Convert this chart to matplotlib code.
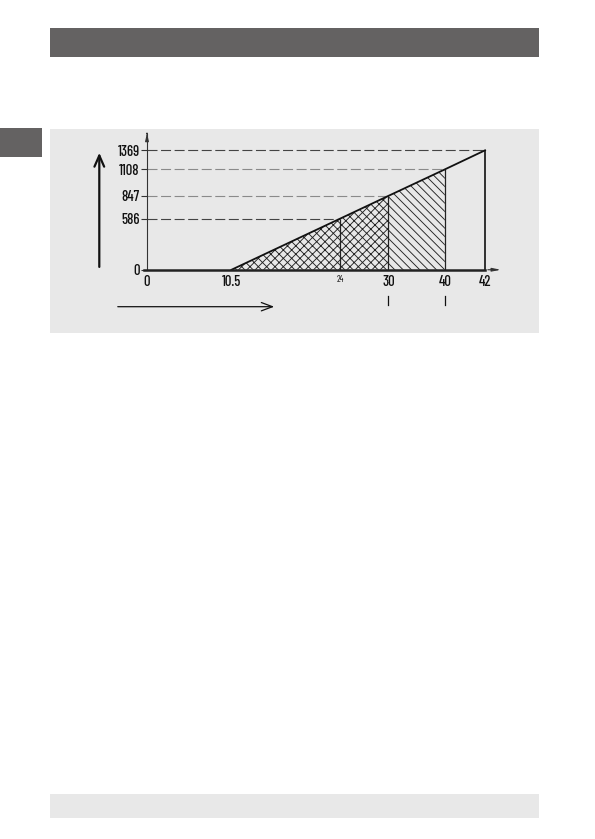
import numpy as np
import matplotlib
matplotlib.use('Agg')
import matplotlib.pyplot as plt
from matplotlib.patches import Rectangle, FancyArrowPatch

plt.rcParams['font.family'] = ['Barlow Condensed', 'DejaVu Sans']
plt.rcParams['font.weight'] = 'medium'
plt.rcParams['hatch.linewidth'] = 0.65

# values
x_ticks = [0, 10.5, 24, 30, 40, 42]
x_labels = ['0', '10.5', '24', '30', '40', '42']
y_ticks = [0, 586, 847, 1108, 1369]
y_labels = ['0', '586', '847', '1108', '1369']
line_x = [10.5, 24, 30, 40, 42]
line_y = [0, 586, 847, 1108, 1369]

# the drawing is a sketch, the ticks are not evenly spaced -> piecewise linear scales
x_data = [-100, 0, 30, 40, 42, 100]
x_disp = [-100, 0, 30, 37, 42, 100]
y_data = [-5000, 0, 847, 1108, 1369, 5000]
y_disp = [-5000, 0, 847, 1150, 1369, 5000]

W, H = 595, 839
fig = plt.figure(figsize=(W / 100, H / 100), dpi=100)


def rect(x0, y0, x1, y1, color):
    fig.patches.append(Rectangle((x0 / W, 1 - y1 / H), (x1 - x0) / W, (y1 - y0) / H,
                                 transform=fig.transFigure, color=color, lw=0, zorder=-5))


rect(50, 28, 539, 57, '#646262')     # header bar
rect(0, 128, 42, 157, '#646262')     # side tab
rect(50, 129, 539, 333, '#e8e8e8')   # chart box
rect(50, 794, 539, 818, '#e8e8e8')   # footer bar

ax = fig.add_axes([50 / W, 1 - 333 / H, 489 / W, 204 / H])
ax.patch.set_alpha(0)
ax.set_xscale('function', functions=(lambda v: np.interp(v, x_data, x_disp),
                                     lambda v: np.interp(v, x_disp, x_data)))
ax.set_yscale('function', functions=(lambda v: np.interp(v, y_data, y_disp),
                                     lambda v: np.interp(v, y_disp, y_data)))
ax.set_xlim(-12.05, 48.7)
ax.set_ylim(-725, 1613)

for s in ['top', 'right']:
    ax.spines[s].set_visible(False)
ax.spines['left'].set_position(('data', 0))
ax.spines['left'].set_bounds(0, 1560)
ax.spines['left'].set_linewidth(0.8)
ax.spines['left'].set_color('#333333')
ax.spines['bottom'].set_position(('data', 0))
ax.spines['bottom'].set_bounds(-0.4, 42)
ax.spines['bottom'].set_linewidth(1.8)
ax.spines['bottom'].set_color('#222222')

ax.set_yticks(y_ticks)
ax.set_yticklabels(y_labels)
ax.set_xticks(x_ticks)
ax.set_xticklabels(x_labels)
ax.tick_params(axis='y', length=4.3, width=0.8, color='#333333', pad=1, labelsize=10.5, labelcolor='#111111')
ax.tick_params(axis='x', length=0, pad=4, labelsize=10.5, labelcolor='#111111')
ax.get_xticklabels()[2].set_fontsize(6.5)
ax.get_xticklabels()[2].set_fontweight('normal')

# axis arrow heads
ax.annotate('', xy=(0, 1600), xytext=(0, 1530),
            arrowprops=dict(arrowstyle='-|>,head_length=0.45,head_width=0.1', lw=0.8, color='#333333'))
ax.annotate('', xy=(44.3, 0), xytext=(42, 0),
            arrowprops=dict(arrowstyle='-|>,head_length=0.5,head_width=0.1', lw=0.8, color='#333333'))

# dashed helper lines
dash_colors = ['#444444', '#8a8a8a', '#8a8a8a', '#444444']
for yv, xv, c in zip(line_y[1:], line_x[1:], dash_colors):
    ax.plot([0, xv], [yv, yv], color=c, lw=0.8, dashes=(9, 3.2))

# hatched areas
xs = np.array(line_x)
ys = np.array(line_y)
m1 = xs <= 30
ax.fill_between(xs[m1], 0, ys[m1], facecolor='none', edgecolor='#222222', hatch='xxxx', lw=0)
m2 = (xs >= 30) & (xs <= 40)
ax.fill_between(xs[m2], 0, ys[m2], facecolor='none', edgecolor='#222222', hatch='\\\\\\\\', lw=0)

# verticals and the main line
ax.vlines(line_x[1:4], 0, line_y[1:4], color='#222222', lw=0.9)
ax.vlines(line_x[4], 0, line_y[4], color='#111111', lw=1.2)
ax.plot(line_x, line_y, color='#111111', lw=1.3)

# small marks below 30 and 40
trans = ax.get_xaxis_transform()
for xv in [30, 40]:
    ax.plot([xv, xv], [0.137, 0.183], color='#111111', lw=0.9, transform=trans)

# direction arrows
fig.patches.append(FancyArrowPatch(
    (99.3 / W, 1 - 269.7 / H), (99.3 / W, 1 - 150 / H), transform=fig.transFigure,
    arrowstyle='->,head_length=8,head_width=3.5', lw=1.6, color='#111111'))
fig.patches.append(FancyArrowPatch(
    (115 / W, 1 - 306.7 / H), (277 / W, 1 - 306.7 / H), transform=fig.transFigure,
    arrowstyle='->,head_length=8,head_width=3', lw=0.9, color='#111111'))

fig.savefig('out.png', dpi=100)
